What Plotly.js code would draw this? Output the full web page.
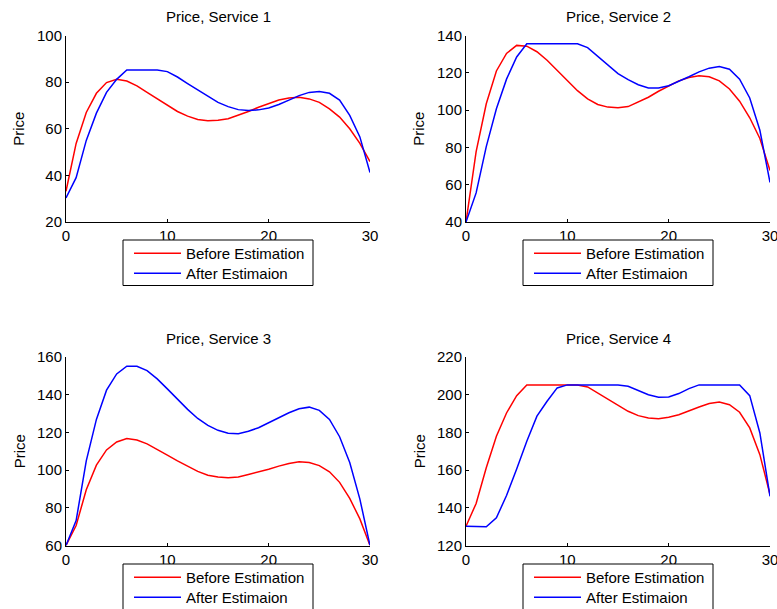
<!DOCTYPE html>
<html><head><meta charset="utf-8">
<script src="https://cdn.plot.ly/plotly-3.0.1.min.js"></script>
<style>html,body{margin:0;padding:0;background:#fff;overflow:hidden}#chart{width:777px;height:609px}</style>
</head><body><div id="chart"></div>
<script>
const periods = [0,1,2,3,4,5,6,7,8,9,10,11,12,13,14,15,16,17,18,19,20,21,22,23,24,25,26,27,28,29,30];

const s1Before = [33.2,53.7,67,75.2,79.8,81.2,80.5,78.4,75.6,72.8,70,67.4,65.4,64,63.4,63.6,64.3,65.7,67.4,69.2,70.9,72.3,73.2,73.5,72.8,71.3,68.5,65,60,53.7,45.9];
const s1After  = [30.3,39,55,66.7,75.6,81.2,85.2,85.2,85.2,85.2,84.5,82.2,79.4,76.6,73.9,71.3,69.5,68.2,67.8,68.1,68.9,70.4,72.3,74.2,75.6,76,75.2,72.3,65.7,56.5,41.2];

const s2Before = [40,77.7,103.4,121,130.4,134.7,134.3,131.3,126.7,121.4,115.7,110.4,106,103,101.6,101.2,101.9,104.2,106.9,110.1,113.1,115.7,117.5,118.4,117.9,115.7,111.3,104.8,95.9,84.8,67.6];
const s2After  = [40,55.6,80.4,100.7,116.6,128.5,135.6,135.6,135.6,135.6,135.6,135.6,133.5,129,124.2,119.6,116.3,113.6,111.9,111.9,113.1,115.4,117.9,120.5,122.5,123.4,121.9,116.6,106.5,89.2,61.2];

const s3Before = [60,70.6,89.6,102.6,110.7,114.9,116.7,116,113.9,111.1,107.9,104.9,101.9,99.3,97.3,96.3,95.9,96.4,97.7,98.9,100.5,102.1,103.5,104.4,104,102.4,99.1,93.5,85,74.1,60];
const s3After  = [60,73.2,104.9,126.9,142.4,151,155.1,155.1,152.8,148.4,143.1,137.5,132.2,127.4,123.7,121.1,119.5,119.3,120.6,122.5,125.1,127.8,130.4,132.5,133.4,131.7,126.9,117.7,104,84.6,60];

const s4Before = [130.2,142.3,161.2,178,190.3,199.5,205.2,205.2,205.2,205.2,205.2,205.2,204.1,200.9,197.4,194.2,191.2,188.9,187.7,187.3,188,189.4,191.6,193.5,195.3,196.1,194.7,190.7,182.4,168.2,147];
const s4After  = [130.2,129.9,129.9,134.7,146.5,160.6,175.3,188.6,196.5,203.6,205.2,205.2,205.2,205.2,205.2,205.2,204.5,202.2,200,198.6,198.8,200.6,203.2,205.2,205.2,205.2,205.2,205.2,199.5,179.7,146.1];

const subplotTitles = ['Price, Service 1','Price, Service 2','Price, Service 3','Price, Service 4'];
const seriesNames = ['Before Estimation','After Estimaion'];
const yRanges = [[20,100],[40,140],[60,160],[120,220]];
const xTicks = [0,10,20,30];

const W = 777, H = 609;
const FONT = 'Arial, "Liberation Sans", sans-serif';
const px = v => v / W;
const py = v => 1 - v / H;

// pixel boxes of each plot area [left,right,top,bottom]
const boxes = [[66,370,35.5,222],[466,770,35.5,222],[66,370,357,545.5],[466,770,357,545.5]];
const legendBoxes = [[123,313,240,285.5],[523,713,240,285.5],[123,313,564,609.5],[523,713,564,609.5]];

const before = [s1Before,s2Before,s3Before,s4Before];
const after = [s1After,s2After,s3After,s4After];
const colors = ['#ff0000','#0000ff'];

const traces = [];
const layout = {
  width: W, height: H,
  margin: {l:0,r:0,t:0,b:0,autoexpand:false},
  paper_bgcolor:'#fff', plot_bgcolor:'#fff',
  font: {family: FONT, size: 15, color:'#000'},
  showlegend: true,
  annotations: [], shapes: []
};

let legCount = 0;
for (let i = 0; i < 4; i++) {
  const n = i === 0 ? '' : String(i+1);
  const b = boxes[i];
  const lb = legendBoxes[i];
  layout.shapes.push({type:'rect', xref:'paper', yref:'paper', x0: px(lb[0]), x1: px(lb[1]), y0: py(lb[3]), y1: py(lb[2]),
    line:{color:'#000', width:1}, fillcolor:'#fff', layer:'above'});
  [before[i], after[i]].forEach((ys, k) => {
    legCount++;
    const leg = legCount === 1 ? 'legend' : 'legend' + legCount;
    traces.push({x: periods, y: ys, type:'scatter', mode:'lines', name: seriesNames[k],
      line:{color: colors[k], width:1.5}, xaxis:'x'+n, yaxis:'y'+n, legend: leg, hoverinfo:'skip'});
    layout[leg] = {x: px(lb[0]+6), y: py(lb[2] - 3 + k*20), xanchor:'left', yanchor:'top',
      bgcolor:'rgba(0,0,0,0)', borderwidth:0, itemwidth:47, tracegroupgap:0,
      font:{family:FONT, size:15, color:'#000'}};
  });
  layout['xaxis'+n] = {
    domain:[px(b[0]), px(b[1])], anchor:'y'+n, range:[0,30], tickvals: xTicks,
    ticks:'inside', ticklen:3, tickcolor:'#000', tickwidth:1,
    showline:true, linecolor:'#000', linewidth:1, showgrid:false, zeroline:false,
    ticklabeloverflow:'allow',
    tickfont:{family:FONT, size:15, color:'#000'}, fixedrange:true
  };
  layout['yaxis'+n] = {
    domain:[py(b[3]), py(b[2])], anchor:'x'+n, range: yRanges[i], dtick:20,
    ticks:'inside', ticklen:3, tickcolor:'#000', tickwidth:1,
    showline:true, linecolor:'#000', linewidth:1, showgrid:false, zeroline:false,
    ticklabeloverflow:'allow',
    tickfont:{family:FONT, size:15, color:'#000'}, fixedrange:true
  };
  layout.annotations.push({text: subplotTitles[i], xref:'paper', yref:'paper',
    x: px((b[0]+b[1])/2), y: py(b[2]-19), xanchor:'center', yanchor:'middle', showarrow:false,
    font:{family:FONT, size:15, color:'#000'}});
  layout.annotations.push({text:'Price', xref:'paper', yref:'paper', textangle:-90,
    x: px(b[0]-47), y: py((b[2]+b[3])/2), xanchor:'center', yanchor:'middle', showarrow:false,
    font:{family:FONT, size:15, color:'#000'}});
}

Plotly.newPlot('chart', traces, layout, {staticPlot:true, displayModeBar:false});
</script>
</body></html>
